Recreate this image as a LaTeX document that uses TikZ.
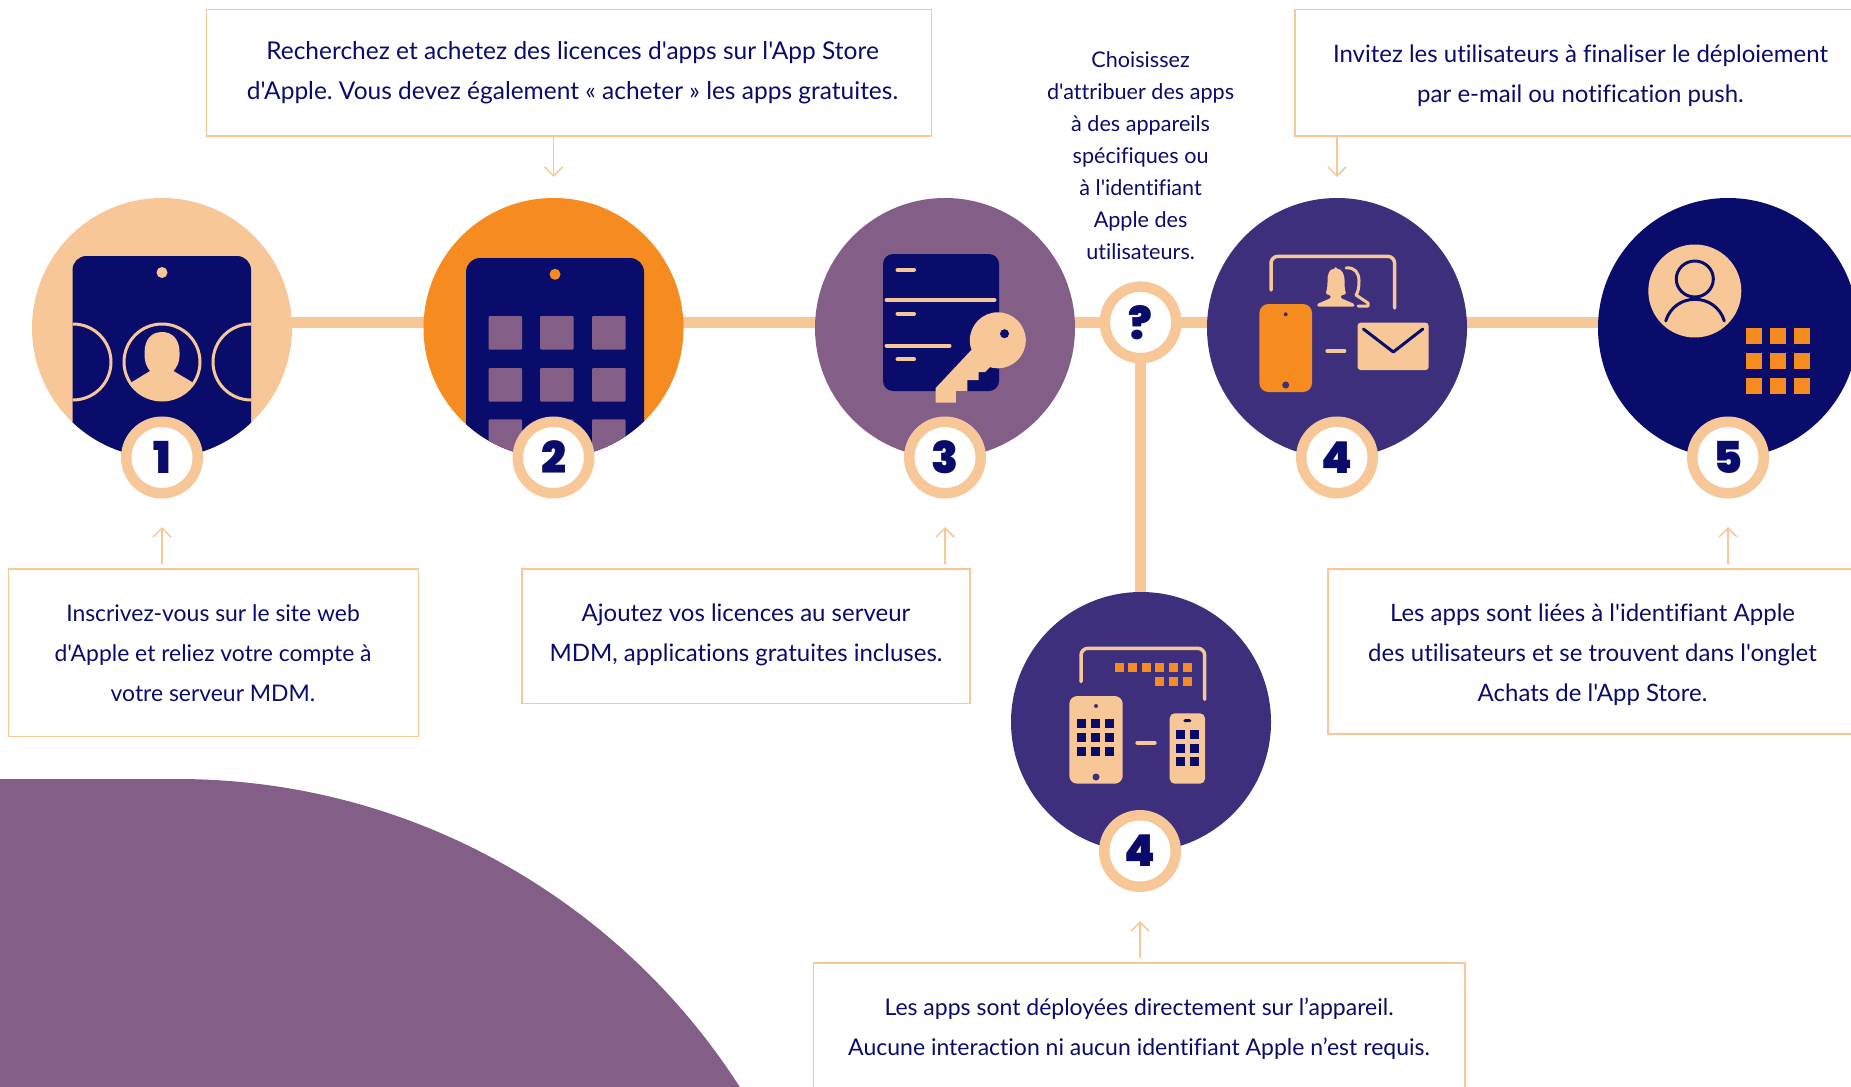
\documentclass[tikz,border=0pt]{standalone}
\usepackage{fontspec}
\usetikzlibrary{arrows.meta,backgrounds}
\setmainfont[Ligatures=NoCommon]{Lato}
\newfontfamily\txtfont[Ligatures=NoCommon]{Lato}
\newfontfamily\numfont{Poppins Black}
\frenchspacing
\definecolor{peach}{HTML}{F7C798}
\definecolor{orangeC}{HTML}{F68B1F}
\definecolor{purpleC}{HTML}{835F88}
\definecolor{violetC}{HTML}{3D2F7C}
\definecolor{navyC}{HTML}{0A0C6B}
\tikzset{
  disc/.style={circle,minimum size=260pt,inner sep=0pt,outer sep=0pt,draw=none},
  badge/.style={circle,minimum size=71.5pt,inner sep=0pt,fill=white,draw=peach,line width=10.5pt,text=navyC,font=\numfont\fontsize{44}{44}\selectfont},
  link/.style={draw=peach,line width=10.5pt},
  txtbox/.style={rectangle,draw=peach,line width=1.5pt,fill=white,inner sep=0pt},
  txt/.style={align=center,text=navyC,inner sep=0pt,font=\txtfont\fontsize{24}{40}\selectfont},
  pointer/.style={draw=peach,line width=1.5pt,-{Straight Barb[length=9pt,width=18pt]}},
  stripe/.style={draw=peach,line width=4pt,line cap=round},
  frameline/.style={draw=peach,line width=3.5pt,line cap=round,rounded corners=7pt}
}
\begin{document}
\begin{tikzpicture}[x=1pt,y=-1pt]
\useasboundingbox (0,0) rectangle (1851,1086);
\clip (0,0) rectangle (1851,1086);
% large purple shape
\fill[purpleC] (177,1447) circle (668);
\fill[purpleC] (0,779) rectangle (177,1086);
% discs
\node[disc,fill=peach] (c1) at (162,328) {};
\node[disc,fill=orangeC] (c2) at (553.5,328) {};
\node[disc,fill=purpleC] (c3) at (945,328) {};
\node[disc,fill=violetC] (c4) at (1337,328) {};
\node[disc,fill=navyC] (c5) at (1728,328) {};
\node[disc,fill=violetC] (c6) at (1141,722) {};
% question badge
\node[badge] (q) at (1140.6,322.4) {?};
% connectors behind discs
\begin{scope}[on background layer]
\clip (0,0) rectangle (1851,1086);
\draw[link] (c1.center |- q.center) -- (c2.center |- q.center);
\draw[link] (c2.center |- q.center) -- (c3.center |- q.center);
\draw[link] (c3.center |- q.center) -- (q.center);
\draw[link] (q.center) -- (c4.center |- q.center);
\draw[link] (c4.center |- q.center) -- (c5.center |- q.center);
\draw[link] (q.center) -- (q.center |- c6.center);
\end{scope}
% icon 1
\begin{scope}
\clip (c1.center) circle (130);
\fill[navyC,rounded corners=14pt] (72.5,256) rectangle (251,520);
\fill[peach] (162,272.5) circle (5.5);
\begin{scope}
\clip (72.5,256) rectangle (251,520);
\draw[peach,line width=3pt] (73,362) circle (38);
\draw[peach,line width=3pt] (251,362) circle (38);
\draw[peach,line width=3pt] (162,362) circle (38);
\end{scope}
\begin{scope}
\clip (162,362) circle (38);
\fill[peach] (144.6,352) .. controls (144.6,339) and (152,332) .. (162,332)
  .. controls (172,332) and (179.5,339) .. (179.5,352) -- (179.5,356)
  .. controls (179.5,362) and (177,367) .. (173.5,371) -- (192,382) -- (192,420) -- (132,420) -- (132,382) -- (150,371)
  .. controls (146,366) and (144.6,361) .. (144.6,356) -- cycle;
\end{scope}
\end{scope}
% icon 2
\begin{scope}
\clip (c2.center) circle (130);
\fill[navyC,rounded corners=14pt] (466,258) rectangle (644,520);
\fill[orangeC] (555,274.3) circle (5.5);
\foreach \px in {488.5,540,592}{
 \foreach \py in {316,368,419.3}{
  \fill[purpleC,rounded corners=1pt] (\px,\py) rectangle +(33.5,33.5);
 }}
\end{scope}
% icon 3
\fill[navyC,rounded corners=10pt] (883,254) rectangle (999,391);
\foreach \py in {270,313.7,359.3}{\draw[stripe] (897.5,\py) -- (914,\py);}
\draw[stripe] (886.5,300) -- (994.5,300);
\draw[stripe] (886.5,345.7) -- (949.5,345.7);
\fill[peach] (997.8,340.3) circle (28);
\fill[peach] (976,345) -- (935.7,388) -- (935.7,402.7) -- (955.8,402.7) -- (955.8,391) -- (967.4,391) -- (967.4,380) -- (978.6,380) -- (978.6,372) -- (985,372) -- (995,362) -- cycle;
\fill[navyC] (1004.5,333.7) circle (4.5);
% icon 4 (mail)
\draw[frameline] (1271,290) -- (1271,256.3) -- (1394.6,256.3) -- (1394.6,308);
\fill[orangeC,rounded corners=9pt] (1259.4,304) rectangle (1312,392);
\fill[violetC] (1285.7,314.3) circle (2);
\fill[violetC] (1285.7,385) circle (3.5);
\draw[stripe] (1327.4,351) -- (1344.4,351);
\fill[peach,rounded corners=3pt] (1357.6,322.7) rectangle (1428.6,370);
\draw[navyC,line width=3pt,line cap=round,line join=round] (1363.4,329) -- (1393.3,352) -- (1422.8,329);
\fill[peach,rounded corners=1.5pt] (1335.7,268.7) .. controls (1329,268.7) and (1327.5,275) .. (1327.5,281)
  .. controls (1327.5,287) and (1326.5,291) .. (1325.5,294) -- (1331,295.5) -- (1331,298) -- (1317,304) -- (1317,306.5) -- (1354.5,306.5) -- (1354.5,304) -- (1340.5,298) -- (1340.5,295.5) -- (1346.5,294)
  .. controls (1345,291) and (1344.5,287) .. (1344.5,281) .. controls (1344.5,275) and (1342,268.7) .. (1335.7,268.7) -- cycle;
\draw[peach,line width=3pt,line cap=round,line join=round] (1346,268) .. controls (1355,267) and (1359,273) .. (1359,281)
  .. controls (1359,288) and (1358,292) .. (1356,295) -- (1368,303) -- (1368,306) -- (1358,306);
% icon 5
\fill[peach] (1694.8,291) circle (46.5);
\draw[navyC,line width=3pt] (1694.8,279) ellipse (18.5 and 18);
\draw[navyC,line width=3pt,line cap=round] (1665.7,321) .. controls (1670,307) and (1682,299.3) .. (1694.8,299.3) .. controls (1708,299.3) and (1720,307) .. (1724.3,321);
\foreach \px in {1746,1770,1794.2}{
 \foreach \py in {328,353,378}{
  \fill[orangeC] (\px,\py) rectangle +(16,16.3);
 }}
% icon 6
\draw[frameline] (1081,681.7) -- (1081,648.3) -- (1204.7,648.3) -- (1204.7,699.3);
\foreach \px in {1114.7,1128.3,1142,1155.3,1169,1183}{\fill[orangeC] (\px,663) rectangle +(9,9);}
\foreach \px in {1155.3,1169,1183}{\fill[orangeC] (\px,676.7) rectangle +(9,9);}
\fill[peach,rounded corners=8pt] (1069.3,696) rectangle (1122.7,783.7);
\fill[violetC] (1096,706) circle (2);
\fill[violetC] (1096,777) circle (3.5);
\foreach \px in {1077.3,1091,1104.7}{
 \foreach \py in {719.3,733,746.7}{
  \fill[navyC] (\px,\py) rectangle +(9,9);
 }}
\draw[stripe] (1137.3,742.7) -- (1154.7,742.7);
\fill[peach,rounded corners=5pt] (1169.7,713.3) rectangle (1205,783.7);
\fill[navyC,rounded corners=1.5pt] (1183.3,719.2) rectangle (1191.3,722.2);
\foreach \px in {1176.3,1190}{
 \foreach \py in {730,743.7,757.3}{
  \fill[navyC] (\px,\py) rectangle +(9,9);
 }}
% badges
\node[badge] (b1) at (162,457.5) {1};
\node[badge] (b2) at (553.5,457.5) {2};
\node[badge] (b3) at (945,457.5) {3};
\node[badge] (b4) at (1337,457.5) {4};
\node[badge] (b5) at (1728,457.5) {5};
\node[badge] (b6) at (1140,851) {4};
% boxes
\node[txtbox,minimum width=724.8pt,minimum height=126.4pt] (bx2) at (569,72.6) {};
\node[txtbox,minimum width=571pt,minimum height=126.4pt] (bx4) at (1580.5,72.6) {};
\node[txtbox,minimum width=410pt,minimum height=167.7pt] (bx1) at (213.5,652.85) {};
\node[txtbox,minimum width=448pt,minimum height=134.6pt] (bx3) at (746,636.3) {};
\node[txtbox,minimum width=529pt,minimum height=165pt] (bx5) at (1592.5,651.5) {};
\node[txtbox,minimum width=651.6pt,minimum height=128pt] (bx6) at (1139.2,1027) {};
% texts
\node[txt,font=\txtfont\fontsize{24.5}{40}\selectfont] (t2) at (572.5,73.2) {Recherchez et achetez des licences d'apps sur l'App Store\\d'Apple. Vous devez également « acheter » les apps gratuites.};
\node[txt] (t4) at (1580.5,75.4) {Invitez les utilisateurs à finaliser le déploiement\\par e-mail ou notification push.};
\node[txt,font=\txtfont\fontsize{22.9}{40}\selectfont] (t1) at (213,652.8) {Inscrivez-vous sur le site web\\d'Apple et reliez votre compte à\\votre serveur MDM.};
\node[txt] (t3) at (746,635.2) {Ajoutez vos licences au serveur\\MDM, applications gratuites incluses.};
\node[txt] (t5) at (1592.5,655.2) {Les apps sont liées à l'identifiant Apple\\des utilisateurs et se trouvent dans l'onglet\\Achats de l'App Store.};
\node[txt,font=\txtfont\fontsize{23}{40}\selectfont] (t6) at (1139,1029) {Les apps sont déployées directement sur l’appareil.\\Aucune interaction ni aucun identifiant Apple n’est requis.};
\node[txt,font=\txtfont\fontsize{21.6}{32}\selectfont] (tq) at (1140.6,155.7) {Choisissez\\d'attribuer des apps\\à des appareils\\spécifiques ou\\à l'identifiant\\Apple des\\utilisateurs.};
% pointers
\draw[pointer,shorten >=21pt] (bx2.south -| c2.center) -- (c2.north);
\draw[pointer,shorten >=21pt] (bx4.south -| c4.center) -- (c4.north);
\draw[pointer,shorten <=4pt,shorten >=28.5pt] (bx1.north -| b1.center) -- (b1.south);
\draw[pointer,shorten <=4pt,shorten >=28.5pt] (bx3.north -| b3.center) -- (b3.south);
\draw[pointer,shorten <=4pt,shorten >=28.5pt] (bx5.north -| b5.center) -- (b5.south);
\draw[pointer,shorten <=4pt,shorten >=29pt] (bx6.north -| b6.center) -- (b6.south);
\end{tikzpicture}
\end{document}
